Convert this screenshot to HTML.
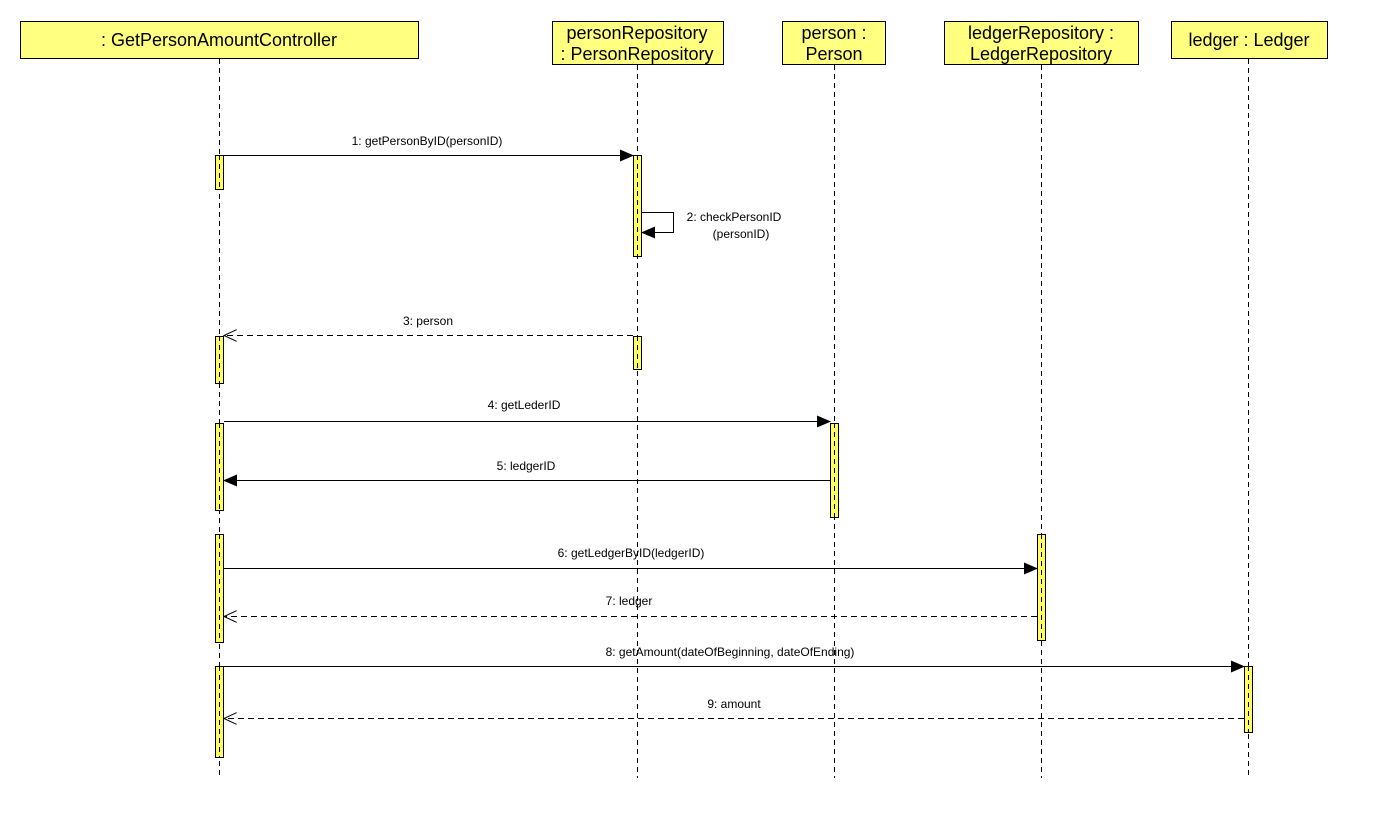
<!DOCTYPE html>
<html><head><meta charset="utf-8"><style>
body{margin:0;background:#fff;}
svg{display:block;font-family:"Liberation Sans",sans-serif;}
</style></head><body>
<svg width="1386" height="828" viewBox="0 0 1386 828" xmlns="http://www.w3.org/2000/svg">
<defs>
<marker id="f" markerWidth="14" markerHeight="12" refX="13" refY="6" orient="auto" markerUnits="userSpaceOnUse"><path d="M0,0 L14,6 L0,12 z" fill="#000"/></marker>
<marker id="o" markerWidth="14" markerHeight="12" refX="13" refY="6" orient="auto" markerUnits="userSpaceOnUse"><path d="M0,0 L13,6 L0,12" fill="none" stroke="#000"/></marker>
</defs>
<g fill="#ffff80" stroke="#000" stroke-width="1">
<rect x="20.5" y="21.5" width="398" height="37"/>
<rect x="552.5" y="21.5" width="171" height="43"/>
<rect x="782.5" y="21.5" width="103" height="43"/>
<rect x="944.5" y="21.5" width="194" height="43"/>
<rect x="1171.5" y="21.5" width="156" height="37"/>
</g>
<g font-size="18" text-anchor="middle" fill="#000">
<text x="219" y="46">: GetPersonAmountController</text>
<text x="637" y="39">personRepository</text><text x="637" y="60">: PersonRepository</text>
<text x="834" y="39">person :</text><text x="834" y="60">Person</text>
<text x="1041" y="39">ledgerRepository :</text><text x="1041" y="60">LedgerRepository</text>
<text x="1249" y="46">ledger : Ledger</text>
</g>
<g stroke="#000" stroke-dasharray="5,4">
<line x1="219.5" y1="59" x2="219.5" y2="778"/>
<line x1="637.5" y1="65" x2="637.5" y2="778"/>
<line x1="834.5" y1="65" x2="834.5" y2="778"/>
<line x1="1041.5" y1="65" x2="1041.5" y2="778"/>
<line x1="1248.5" y1="59" x2="1248.5" y2="778"/>
</g>
<g fill="#ffff60" stroke="#000" stroke-width="1">
<rect x="215.5" y="155.5" width="8" height="34"/>
<rect x="215.5" y="336.5" width="8" height="47"/>
<rect x="215.5" y="423.5" width="8" height="87"/>
<rect x="215.5" y="534.5" width="8" height="108"/>
<rect x="215.5" y="666.5" width="8" height="91"/>
<rect x="633.5" y="155.5" width="8" height="101"/>
<rect x="633.5" y="336.5" width="8" height="33"/>
<rect x="830.5" y="423.5" width="8" height="94"/>
<rect x="1037.5" y="534.5" width="8" height="106"/>
<rect x="1244.5" y="666.5" width="8" height="66"/>
</g>
<g stroke="#000" stroke-dasharray="5,4">
<line x1="219.5" y1="155" x2="219.5" y2="190"/><line x1="219.5" y1="336" x2="219.5" y2="384"/>
<line x1="219.5" y1="423" x2="219.5" y2="511"/><line x1="219.5" y1="534" x2="219.5" y2="643"/>
<line x1="219.5" y1="666" x2="219.5" y2="758"/><line x1="637.5" y1="155" x2="637.5" y2="257"/>
<line x1="637.5" y1="336" x2="637.5" y2="370"/><line x1="834.5" y1="423" x2="834.5" y2="518"/>
<line x1="1041.5" y1="534" x2="1041.5" y2="641"/><line x1="1248.5" y1="666" x2="1248.5" y2="733"/>
</g>
<g stroke="#000" fill="none">
<line x1="224" y1="155.5" x2="633" y2="155.5" marker-end="url(#f)"/>
<polyline points="642,212.5 673.5,212.5 673.5,232.5 642,232.5" marker-end="url(#f)"/>
<line x1="633" y1="335.5" x2="224" y2="335.5" stroke-dasharray="6,4" marker-end="url(#o)"/>
<line x1="224" y1="421.5" x2="830" y2="421.5" marker-end="url(#f)"/>
<line x1="830" y1="480.5" x2="224" y2="480.5" marker-end="url(#f)"/>
<line x1="224" y1="568.5" x2="1037" y2="568.5" marker-end="url(#f)"/>
<line x1="1037" y1="616.5" x2="224" y2="616.5" stroke-dasharray="6,4" marker-end="url(#o)"/>
<line x1="224" y1="666.5" x2="1244" y2="666.5" marker-end="url(#f)"/>
<line x1="1244" y1="718.5" x2="224" y2="718.5" stroke-dasharray="6,4" marker-end="url(#o)"/>
</g>
<g font-size="12" text-anchor="middle" fill="#000">
<text x="427" y="145">1: getPersonByID(personID)</text>
<text x="734" y="221">2: checkPersonID</text>
<text x="741" y="238">(personID)</text>
<text x="428" y="325">3: person</text>
<text x="524" y="409">4: getLederID</text>
<text x="526" y="470">5: ledgerID</text>
<text x="631" y="557">6: getLedgerByID(ledgerID)</text>
<text x="629" y="605">7: ledger</text>
<text x="730" y="656">8: getAmount(dateOfBeginning, dateOfEnding)</text>
<text x="734" y="708">9: amount</text>
</g>
</svg>
</body></html>
